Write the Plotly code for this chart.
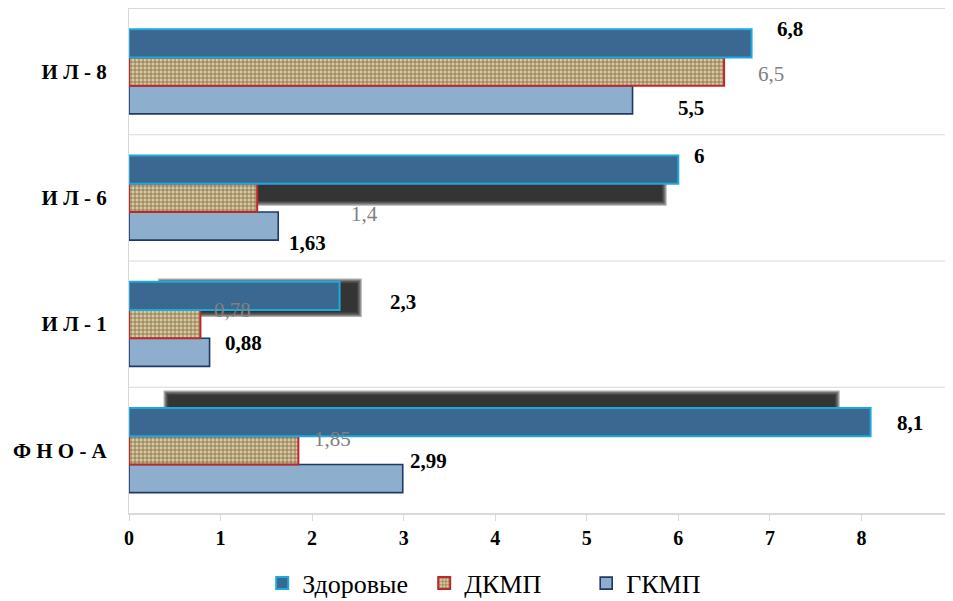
import plotly.graph_objects as go

# ---- data ----
categories = ["ФНО-А", "ИЛ-1", "ИЛ-6", "ИЛ-8"]
series_names = ["Здоровые", "ДКМП", "ГКМП"]
healthy = [8.1, 2.3, 6.0, 6.8]
dkmp = [1.85, 0.78, 1.4, 6.5]
gkmp = [2.99, 0.88, 1.63, 5.5]
x_ticks = [0, 1, 2, 3, 4, 5, 6, 7, 8, 9]

# ---- label placement (pixel offsets from bar end / category centre; dy>0 = down) ----
off_healthy = [(39, -27), (63, -22), (21, -42), (38, -43)]
off_dkmp = [(34, -11), (32, -14), (107, 16), (47, 2)]
off_gkmp = [(26, 11), (34, 19), (29, 45), (58, 36)]

# ---- decorative shadow artefacts (x0, x1 in value units; y0, y1 in category units) ----
shadows = [
    (1.40, 5.82, 1.976, 2.110),
    (0.37, 2.49, 1.094, 1.323),
    (0.43, 7.71, 0.335, 0.437),
]

SERIF = "Liberation Serif"

def fmt(v):
    return f"{v:g}".replace(".", ",")

fig = go.Figure()

fig.add_trace(go.Bar(
    y=categories, x=gkmp, orientation="h", name="ГКМП", legendrank=3,
    marker=dict(color="#8eaecd", line=dict(color="#1f3864", width=1.6)),
))
fig.add_trace(go.Bar(
    y=categories, x=dkmp, orientation="h", name="ДКМП", legendrank=2,
    marker=dict(color="#c8b68c", line=dict(color="#c0272d", width=2),
                pattern=dict(shape="+", fgcolor="#6b5734", bgcolor="#d9c89f",
                             size=4, solidity=0.3, fillmode="replace")),
))
fig.add_trace(go.Bar(
    y=categories, x=healthy, orientation="h", name="Здоровые", legendrank=1,
    marker=dict(color="#3a6891", line=dict(color="#1ea9dc", width=2)),
))

annotations = []
for vals, offs, color, bold in [
    (healthy, off_healthy, "#000000", True),
    (dkmp, off_dkmp, "#808080", False),
    (gkmp, off_gkmp, "#000000", True),
]:
    for cat, v, (dx, dy) in zip(categories, vals, offs):
        txt = fmt(v)
        annotations.append(dict(
            x=v, y=cat, xref="x", yref="y", text=f"<b>{txt}</b>" if bold else txt,
            showarrow=False, xanchor="center", yanchor="middle",
            xshift=dx, yshift=-dy,
            font=dict(family=SERIF, size=21, color=color),
        ))

shapes = []
# category separator gridlines
for b in [-0.5, 0.5, 1.5, 2.5, 3.5]:
    shapes.append(dict(type="line", xref="paper", yref="y", x0=0, x1=1, y0=b, y1=b,
                       line=dict(color="#d9d9d9", width=1), layer="below"))
# soft dark shadows
px_x, px_y = 91.6, 127.0
for (x0, x1, y0, y1) in shadows:
    for k in range(5):
        pad = (4 - k) * 1.2
        shapes.append(dict(type="rect", xref="x", yref="y",
                           x0=x0 - pad / px_x, x1=x1 + pad / px_x,
                           y0=y0 - pad / px_y, y1=y1 + pad / px_y,
                           fillcolor="rgba(25,25,25,0.35)", line=dict(width=0),
                           layer="below"))

# page body adds an 8px margin, so the figure is 8px smaller on each axis
fig.update_layout(
    width=945, height=593,
    margin=dict(l=121, r=0, t=0, b=87),
    paper_bgcolor="white", plot_bgcolor="white",
    barmode="group", bargap=0.33, bargroupgap=0,
    annotations=annotations, shapes=shapes,
    legend=dict(orientation="h", xref="container", yref="container",
                x=0.269, xanchor="left", y=0.03, yanchor="middle",
                font=dict(family=SERIF, size=26, color="#000000"),
                itemwidth=30, entrywidth=117, entrywidthmode="pixels"),
    showlegend=True,
)
fig.update_xaxes(
    range=[0, 9], tickvals=x_ticks, ticktext=[f"<b>{t}</b>" for t in x_ticks],
    showgrid=False, zeroline=False, showline=True, linecolor="#d9d9d9", linewidth=1,
    ticks="outside", ticklen=6, tickcolor="#d9d9d9",
    tickfont=dict(family=SERIF, size=20, color="#000000"),
    ticklabeloverflow="allow",
    automargin=False,
)
fig.update_yaxes(
    categoryorder="array", categoryarray=categories,
    tickvals=categories, ticktext=["<b>" + " ".join(c) + "</b>" for c in categories],
    showgrid=False, zeroline=False, showline=True, linecolor="#d9d9d9", linewidth=1,
    ticks="", ticklabelstandoff=17,
    tickfont=dict(family=SERIF, size=21, color="#000000"),
    automargin=False,
)

fig.write_html("out.html")
